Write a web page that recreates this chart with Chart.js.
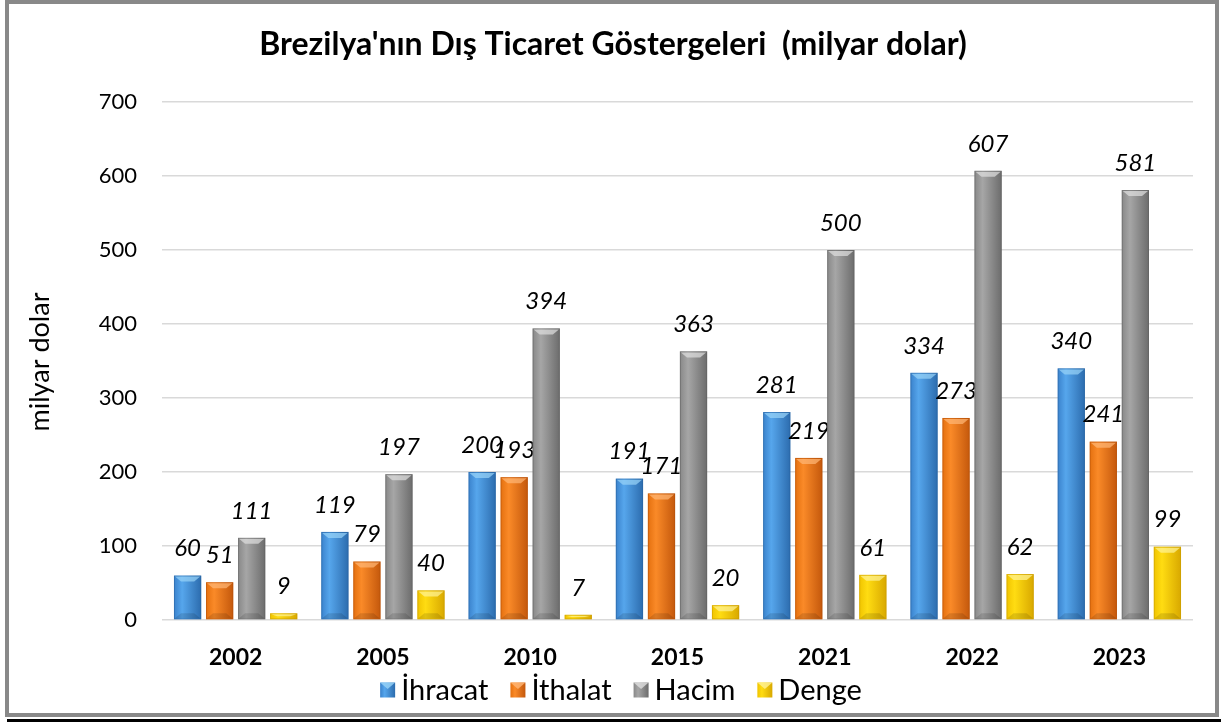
<!DOCTYPE html>
<html><head><meta charset="utf-8">
<script src="https://cdn.jsdelivr.net/npm/chart.js@4.4.1/dist/chart.umd.min.js"></script>
<style>html,body{margin:0;padding:0;background:#fff}#wrap{width:1221px;height:722px;position:relative}</style>
</head><body><div id="wrap"><canvas id="c" width="1221" height="722"></canvas></div>
<script>
const categories = ['2002','2005','2010','2015','2021','2022','2023'];
const ihracat = [60,119,200,191,281,334,340];
const ithalat = [51,79,193,171,219,273,241];
const hacim = [111,197,394,363,500,607,581];
const denge = [9,40,7,20,61,62,99];
const seriesNames = ['İhracat','İthalat','Hacim','Denge'];
const yTicks = [0,100,200,300,400,500,600,700];
const titleText = "Brezilya'nın Dış Ticaret Göstergeleri  (milyar dolar)";
const yTitle = 'milyar dolar';

const FONT = 'Lato, "Open Sans", sans-serif';
const palettes = [
  {solid:'#3A87D4', stops:['#3A82CC','#56A6EC','#2C6CAE'], top:'#9AD4F8', edge:'#2A64A0'},
  {solid:'#EE7418', stops:['#E4700F','#FA8A28','#C4580C'], top:'#FFB878', edge:'#B4500A'},
  {solid:'#8E8E8E', stops:['#888888','#A6A6A6','#6C6C6C'], top:'#E0E0E0', edge:'#606060'},
  {solid:'#F5C800', stops:['#F0C400','#FFDC12','#D8A800'], top:'#FFF39A', edge:'#C89A00'}
];

function grad(ctx, l, r, p){
  const g = ctx.createLinearGradient(l,0,r,0);
  g.addColorStop(0,p.stops[0]); g.addColorStop(0.3,p.stops[1]); g.addColorStop(1,p.stops[2]);
  return g;
}

const barStyle = {
  id:'barStyle',
  afterDatasetsDraw(chart){
    const ctx = chart.ctx;
    ctx.save();
    chart.data.datasets.forEach((ds,i)=>{
      const meta = chart.getDatasetMeta(i);
      const p = palettes[i];
      meta.data.forEach((el,j)=>{
        const l = el.x - el.width/2, r = el.x + el.width/2;
        const top = el.y, bot = el.base, hgt = bot - top;
        ctx.fillStyle = grad(ctx, l, r, p);
        ctx.fillRect(l, top, el.width, hgt);
        ctx.strokeStyle = p.edge; ctx.globalAlpha = 0.5; ctx.lineWidth = 1;
        ctx.strokeRect(l+0.5, top+0.5, el.width-1, hgt-1);
        const h = Math.min(6, hgt/2);
        ctx.fillStyle = p.top; ctx.globalAlpha = 0.7;
        ctx.beginPath();
        ctx.moveTo(l+1, top+1); ctx.lineTo(r-1, top+1); ctx.lineTo(r-7, top+h); ctx.lineTo(l+7, top+h); ctx.closePath();
        ctx.fill();
        if (hgt > 20){
          ctx.fillStyle = 'rgba(0,0,0,0.12)'; ctx.globalAlpha = 1;
          ctx.beginPath();
          ctx.moveTo(l+1, bot-1); ctx.lineTo(r-1, bot-1); ctx.lineTo(r-7, bot-6); ctx.lineTo(l+7, bot-6); ctx.closePath();
          ctx.fill();
        }
        ctx.globalAlpha = 1;
        ctx.fillStyle = '#000';
        ctx.font = 'italic 24px ' + FONT;
        ctx.textAlign = 'center'; ctx.textBaseline = 'middle';
        ctx.fillText(String(ds.data[j]), el.x, top - 27);
      });
    });
    ctx.restore();
  },
  afterDraw(chart){
    const ctx = chart.ctx;
    ctx.save();
    ctx.fillStyle = '#000';
    ctx.font = 'bold 32px ' + FONT;
    ctx.textAlign = 'center'; ctx.textBaseline = 'middle';
    ctx.fillText(titleText, 613, 45);
    ctx.save();
    ctx.translate(40, 362); ctx.rotate(-Math.PI/2);
    ctx.font = '27px ' + FONT;
    ctx.fillText(yTitle, 0, 0);
    ctx.restore();
    ctx.font = '29px ' + FONT;
    const sq = 15, g1 = 6, g2 = 22;
    let total = 0;
    const widths = seriesNames.map(n=>ctx.measureText(n).width);
    widths.forEach((w,i)=>{ total += sq + g1 + w + (i<widths.length-1?g2:0); });
    let x = 621 - total/2; const cy = 690;
    ctx.textAlign='left';
    seriesNames.forEach((n,i)=>{
      const p = palettes[i];
      ctx.fillStyle = grad(ctx, x, x+sq, p); ctx.fillRect(x, cy-sq/2, sq, sq);
      ctx.fillStyle = p.top; ctx.globalAlpha=0.8;
      ctx.beginPath(); ctx.moveTo(x,cy-sq/2); ctx.lineTo(x+sq,cy-sq/2); ctx.lineTo(x+sq/2,cy-1); ctx.closePath(); ctx.fill();
      ctx.globalAlpha=1;
      ctx.fillStyle='#000';
      ctx.fillText(n, x+sq+g1, cy+1);
      x += sq + g1 + widths[i] + g2;
    });
    ctx.strokeStyle = '#898989'; ctx.lineWidth = 4;
    ctx.strokeRect(7, 2, 1210, 713);
    ctx.strokeStyle = '#000'; ctx.lineWidth = 3;
    ctx.beginPath(); ctx.moveTo(7, 720.5); ctx.lineTo(1221, 720.5); ctx.stroke();
    ctx.restore();
  }
};

const mk = (label, data, i) => ({label, data, backgroundColor:'rgba(0,0,0,0)', borderWidth:0,
  barPercentage:0.85, categoryPercentage:0.87});

new Chart(document.getElementById('c'), {
  type:'bar',
  data:{labels:categories, datasets:[mk(seriesNames[0],ihracat,0),mk(seriesNames[1],ithalat,1),mk(seriesNames[2],hacim,2),mk(seriesNames[3],denge,3)]},
  options:{
    responsive:false, animation:false, devicePixelRatio:1,
    layout:{padding:{left:10,right:28,top:102,bottom:42}},
    plugins:{legend:{display:false}, title:{display:false}, tooltip:{enabled:false}},
    scales:{
      x:{grid:{display:false,drawTicks:false}, border:{display:false},
         ticks:{padding:24, color:'#000', font:{family:FONT, size:23, weight:'bold'}},
         afterFit(s){ s.height = 60; }},
      y:{min:0,max:700, grid:{color:'#d9d9d9', lineWidth:1.5, drawTicks:false}, border:{display:false},
         afterBuildTicks(s){ s.ticks = yTicks.map(v=>({value:v})); },
         ticks:{padding:25, color:'#000', font:{family:FONT, size:22}},
         afterFit(s){ s.width = 152; }}
    }
  },
  plugins:[barStyle]
});
</script></body></html>
